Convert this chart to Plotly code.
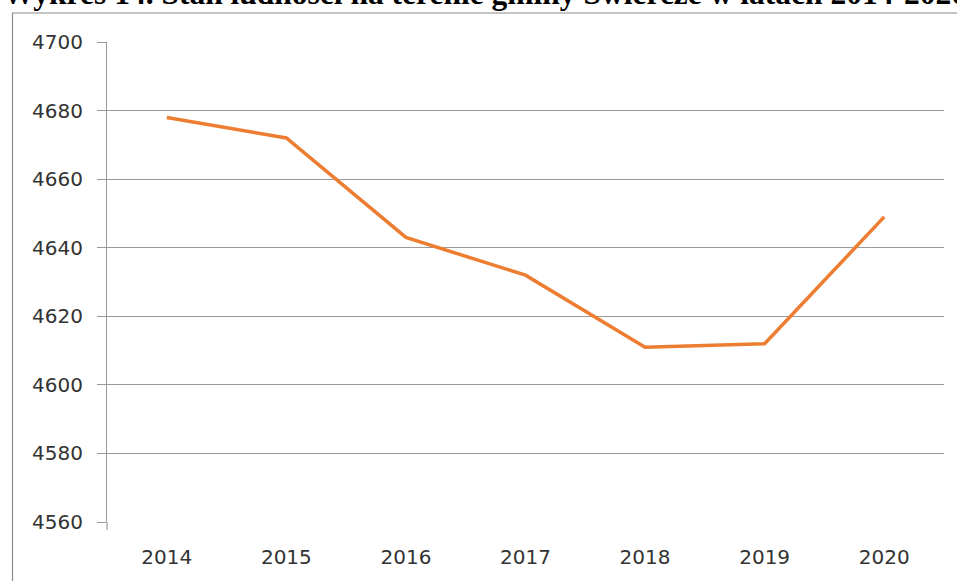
import plotly.graph_objects as go

years = ["2014", "2015", "2016", "2017", "2018", "2019", "2020"]
population = [4678, 4672, 4643, 4632, 4611, 4612, 4649]
y_ticks = [4560, 4580, 4600, 4620, 4640, 4660, 4680, 4700]
title_text = "Wykres 14. Stan ludności na terenie gminy Świercze w latach 2014-2020"

W, H = 957, 581
L, R, T, B = 107, 13, 42, 59
pw, ph = W - L - R, H - T - B

def px_x(x):
    return (x - L) / pw

def px_y(y):
    return 1 - (y - T) / ph

grid = "#9a9a9a"
fig = go.Figure()
fig.add_trace(go.Scatter(
    x=years, y=population, mode="lines",
    line=dict(color="#ED7D31", width=3.5),
    showlegend=False, hoverinfo="x+y",
))

fig.update_layout(
    width=W, height=H,
    margin=dict(l=L, r=R, t=T, b=B),
    paper_bgcolor="white", plot_bgcolor="white",
    xaxis=dict(
        type="category", range=[-0.5, 6.5],
        showgrid=False, showline=False, zeroline=False, ticks="",
        tickfont=dict(family="DejaVu Sans", size=20, color="#333333"),
        ticklabelstandoff=21,
    ),
    yaxis=dict(
        range=[4560, 4700], tickvals=y_ticks,
        showgrid=True, gridcolor=grid, gridwidth=1.2,
        showline=True, linecolor=grid, linewidth=1.2,
        ticks="outside", ticklen=9, tickcolor=grid, tickwidth=1.2,
        zeroline=False,
        tickfont=dict(family="DejaVu Sans", size=20, color="#333333"),
        ticklabelstandoff=10,
    ),
    shapes=[
        dict(type="rect", xref="paper", yref="paper",
             x0=px_x(12.5), x1=1.2, y0=-0.3, y1=px_y(13),
             line=dict(color="#8c8c8c", width=1.2), fillcolor="rgba(0,0,0,0)",
             layer="above"),
        dict(type="line", xref="paper", yref="paper",
             x0=0, x1=0, y0=0, y1=px_y(530),
             line=dict(color=grid, width=1.2)),
    ],
    annotations=[
        dict(text="<b>" + title_text + "</b>", xref="paper", yref="paper",
             x=px_x(485), y=px_y(13), xanchor="center", yanchor="bottom",
             showarrow=False,
             font=dict(family="Liberation Serif", size=31.5, color="black")),
    ],
)

fig.write_html(
    "out.html",
    config={"displayModeBar": False},
    post_script="document.body.style.margin='0';document.body.style.overflow='hidden';",
)
